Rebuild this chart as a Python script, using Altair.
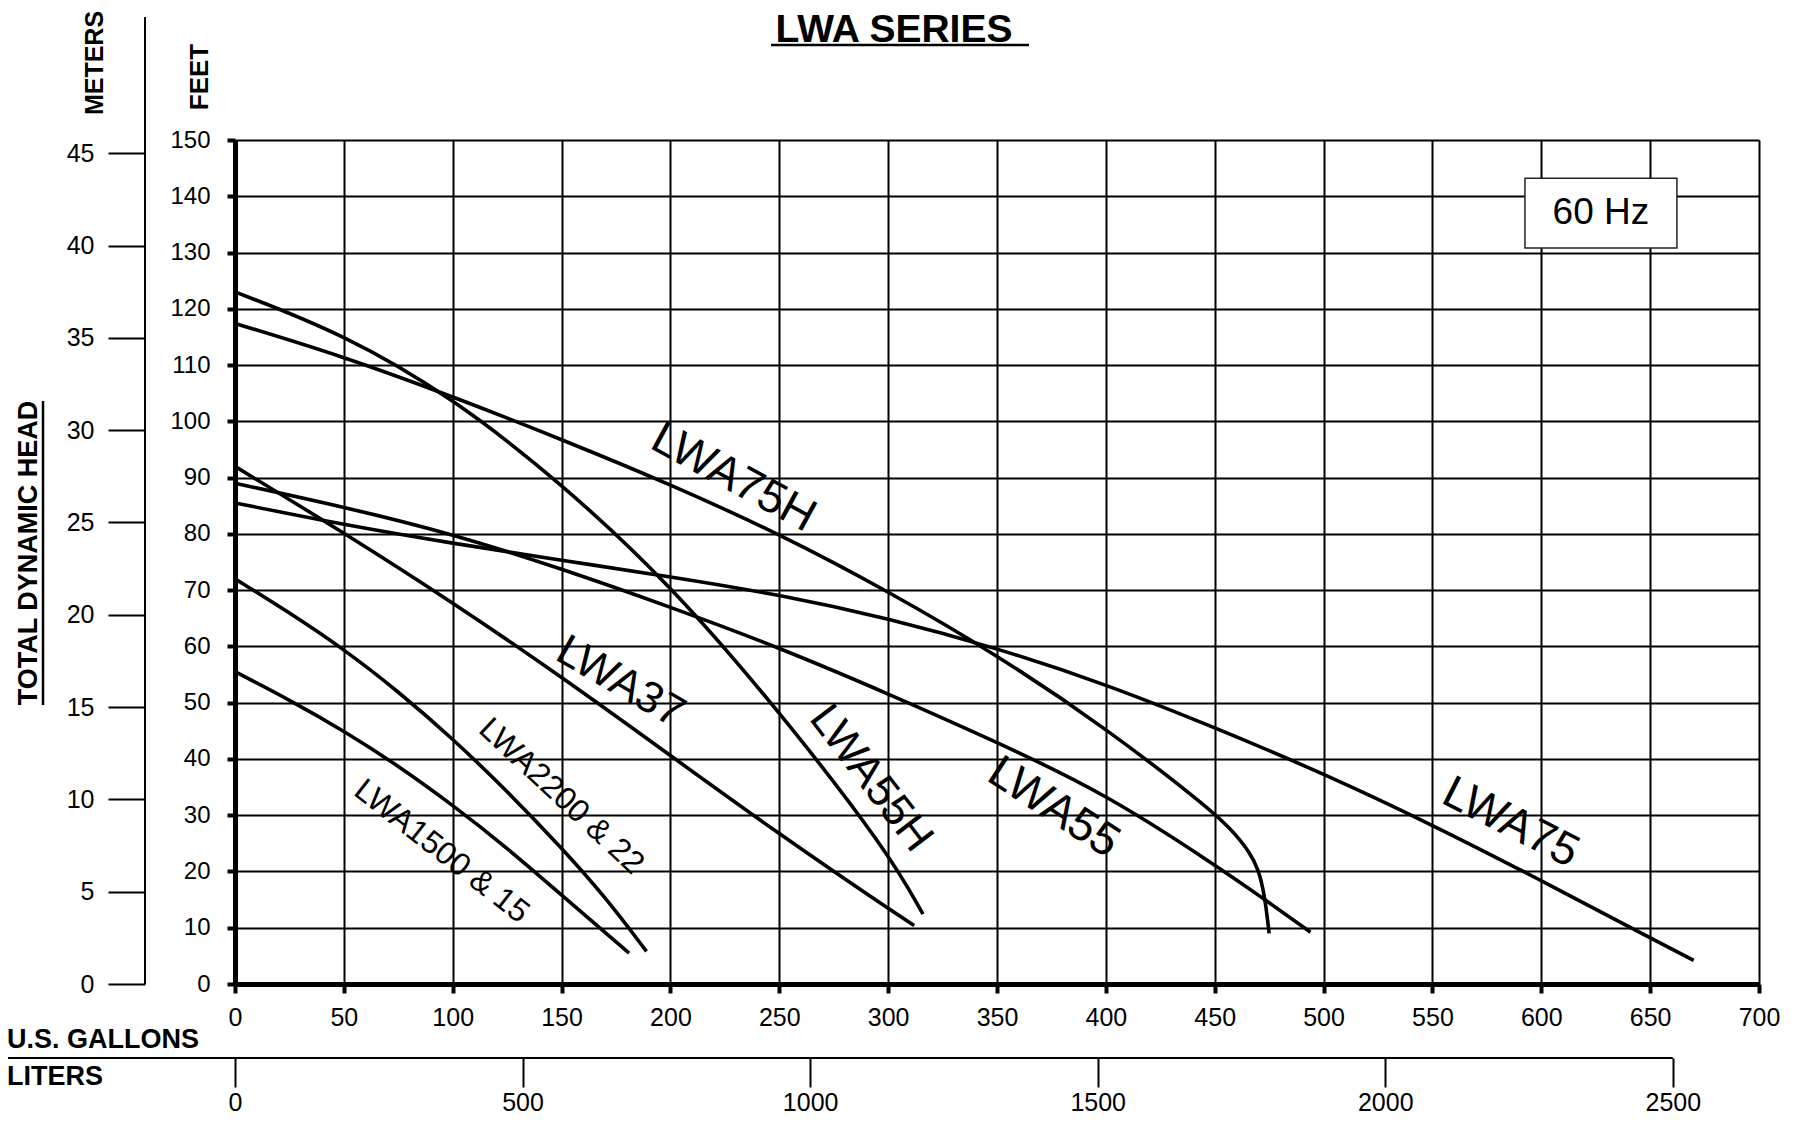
import altair as alt
import pandas as pd

# ---------------- data ----------------
gal_ticks = list(range(0, 701, 50))
feet_ticks = list(range(0, 151, 10))
meter_ticks = list(range(0, 46, 5))
liter_ticks = [0, 500, 1000, 1500, 2000, 2500]

lwa1500_gpm = [0, 25, 50, 75, 100, 125, 150, 181]
lwa1500_ft = [55.5, 50.5, 45.0, 38.8, 31.8, 24.2, 15.8, 5.5]

lwa2200_gpm = [0, 25, 50, 75, 100, 125, 150, 170, 189]
lwa2200_ft = [72.0, 66.0, 59.5, 52.0, 43.6, 34.3, 24.2, 15.5, 5.8]

lwa37_gpm = [0, 50, 100, 150, 200, 250, 300, 312]
lwa37_ft = [92.0, 80.2, 67.8, 54.6, 40.6, 26.6, 13.4, 10.4]

lwa55h_gpm = [0, 50, 100, 150, 200, 250, 300, 316]
lwa55h_ft = [123.0, 115.5, 104.2, 89.0, 71.0, 48.5, 23.5, 12.4]

lwa75h_gpm = [0, 50, 100, 150, 200, 250, 300, 350, 400, 450, 460, 466, 470, 473, 475]
lwa75h_ft = [117.4, 111.5, 104.4, 96.8, 88.8, 80.0, 69.8, 58.5, 45.5, 30.5, 26.4, 23.4, 20.5, 15.7, 9.0]

lwa55_gpm = [0, 50, 100, 150, 200, 250, 300, 350, 400, 450, 472, 494]
lwa55_ft = [89.0, 84.8, 80.0, 73.8, 67.0, 59.8, 51.6, 43.0, 33.8, 21.2, 15.3, 9.2]

lwa75_gpm = [0, 50, 100, 150, 200, 250, 300, 350, 400, 450, 500, 550, 600, 650, 670]
lwa75_ft = [85.5, 81.6, 78.3, 75.3, 72.4, 69.2, 65.0, 59.7, 53.3, 45.6, 37.4, 28.3, 18.4, 8.2, 4.2]

curve_names = ["LWA1500 & 15", "LWA2200 & 22", "LWA37", "LWA55H", "LWA75H", "LWA55", "LWA75"]
curve_gpm = [lwa1500_gpm, lwa2200_gpm, lwa37_gpm, lwa55h_gpm, lwa75h_gpm, lwa55_gpm, lwa75_gpm]
curve_ft = [lwa1500_ft, lwa2200_ft, lwa37_ft, lwa55h_ft, lwa75h_ft, lwa55_ft, lwa75_ft]

label_text = ["LWA75H", "LWA37", "LWA2200 & 22", "LWA1500 & 15", "LWA55H", "LWA55", "LWA75"]
label_gpm = [229, 177, 150, 95, 292, 376, 586]
label_ft = [90.0, 53.6, 33.4, 23.6, 36.5, 31.4, 28.7]
label_angle = [28.5, 30, 43, 38, 52.5, 33, 27]
label_size = [46, 44, 32, 32, 44, 46, 46]

hz_text = ["60 Hz"]
hz_box_gpm = [592.5, 662.3]
hz_box_ft = [130.8, 143.2]

GPM_MAX = 700
FT_MAX = 150
L_PER_GAL = 3.78541
M_PER_FT = 0.3048
LITERS_MAX = GPM_MAX * L_PER_GAL
METERS_MAX = FT_MAX * M_PER_FT

W, H = 1524, 844
SANS = "Liberation Sans, Arial, sans-serif"

rows = []
for name, xs, ys in zip(curve_names, curve_gpm, curve_ft):
    for i, (xv, yv) in enumerate(zip(xs, ys)):
        rows.append({"model": name, "gpm": xv, "ft": yv, "i": i})
curves_df = pd.DataFrame(rows)

labels_df = pd.DataFrame({"t": label_text, "gpm": label_gpm, "ft": label_ft,
                          "ang": label_angle, "sz": label_size})
box_df = pd.DataFrame({"g1": [hz_box_gpm[0]], "g2": [hz_box_gpm[1]],
                       "f1": [hz_box_ft[0]], "f2": [hz_box_ft[1]],
                       "t": hz_text,
                       "gc": [(hz_box_gpm[0] + hz_box_gpm[1]) / 2],
                       "fc": [(hz_box_ft[0] + hz_box_ft[1]) / 2]})

x_scale = alt.Scale(domain=[0, GPM_MAX], nice=False, zero=True)
y_scale = alt.Scale(domain=[0, FT_MAX], nice=False, zero=True)

x_axis = alt.Axis(values=gal_ticks, title=None, grid=True, gridColor="black", gridWidth=2,
                  gridOpacity=1, domainColor="black", domainWidth=5, tickColor="black",
                  tickSize=9, tickWidth=4, labelFont=SANS, labelFontSize=25, labelColor="black",
                  labelPadding=12, labelFlush=False, labelOverlap=False, format="d")
y_axis = alt.Axis(values=feet_ticks, title=None, grid=True, gridColor="black", gridWidth=2,
                  gridOpacity=1, domainColor="black", domainWidth=5, tickColor="black",
                  tickSize=8, tickWidth=4, labelFont=SANS, labelFontSize=24, labelColor="black",
                  labelPadding=17, labelFlush=False, labelOverlap=False, format="d")

lines = alt.Chart(curves_df).mark_line(interpolate="basis", color="black", strokeWidth=3.6).encode(
    x=alt.X("gpm:Q", scale=x_scale, axis=x_axis),
    y=alt.Y("ft:Q", scale=y_scale, axis=y_axis),
    detail="model:N",
    order="i:Q",
)

labels = alt.Chart(labels_df).mark_text(font=SANS, color="black",
                                         align="center", baseline="middle").encode(
    x=alt.X("gpm:Q", scale=x_scale, axis=x_axis),
    y=alt.Y("ft:Q", scale=y_scale, axis=y_axis),
    text="t:N",
    angle=alt.Angle("ang:Q", scale=None),
    size=alt.Size("sz:Q", scale=None),
)

box = alt.Chart(box_df).mark_rect(fill="white", stroke="#222", strokeWidth=1.5).encode(
    x=alt.X("g1:Q", scale=x_scale, axis=x_axis), x2="g2:Q",
    y=alt.Y("f1:Q", scale=y_scale, axis=y_axis), y2="f2:Q",
)
box_text = alt.Chart(box_df).mark_text(font=SANS, fontSize=37, color="black",
                                        align="center", baseline="middle").encode(
    x=alt.X("gc:Q", scale=x_scale, axis=x_axis),
    y=alt.Y("fc:Q", scale=y_scale, axis=y_axis),
    text="t:N",
)

primary = alt.layer(lines, labels, box, box_text)

# secondary axes: liters / meters
sec_df = pd.DataFrame({"liters": [0, LITERS_MAX], "meters": [0, METERS_MAX]})
l_scale = alt.Scale(domain=[0, LITERS_MAX], nice=False, zero=True)
m_scale = alt.Scale(domain=[0, METERS_MAX], nice=False, zero=True)

l_axis = alt.Axis(orient="bottom", offset=74, values=liter_ticks, title=None, grid=False,
                  domain=False, tickColor="black", tickSize=29, tickWidth=2,
                  labelFont=SANS, labelFontSize=25, labelColor="black", labelPadding=3,
                  labelFlush=False, labelOverlap=False, format="d")
m_axis = alt.Axis(orient="left", offset=90, values=meter_ticks, title=None, grid=False,
                  domain=False, tickColor="black", tickSize=37, tickWidth=2,
                  labelFont=SANS, labelFontSize=25, labelColor="black", labelPadding=14,
                  labelFlush=False, labelOverlap=False, format="d")

sec_pts = alt.Chart(sec_df).mark_point(opacity=0).encode(
    x=alt.X("liters:Q", scale=l_scale, axis=l_axis),
    y=alt.Y("meters:Q", scale=m_scale, axis=m_axis),
)
liters_rule = alt.Chart(pd.DataFrame({"liters": [liter_ticks[-1]]})).mark_rule(
    color="black", strokeWidth=2).encode(
    x=alt.X("liters:Q", scale=l_scale, axis=l_axis),
    x2=alt.value(-228),
    y=alt.value(H + 74),
)
secondary = alt.layer(sec_pts, liters_rule)

# decorations (titles, axis names)
meters_line = alt.Chart(pd.DataFrame({"a": [0]})).mark_rule(color="black", strokeWidth=2).encode(
    x=alt.value(-90), y=alt.value(-123), y2=alt.value(H)
)

def txt(s, x, y, size, weight="bold", angle=0, align="center", baseline="middle"):
    return alt.Chart(pd.DataFrame({"t": [s]})).mark_text(
        font=SANS, fontSize=size, fontWeight=weight, color="black",
        align=align, baseline=baseline, angle=angle
    ).encode(x=alt.value(x), y=alt.value(y), text="t:N")

title = txt("LWA SERIES", 659, -98, 39, baseline="alphabetic")
title_ul = alt.Chart(pd.DataFrame({"a": [0]})).mark_rule(color="black", strokeWidth=2.5).encode(
    x=alt.value(536), x2=alt.value(794), y=alt.value(-95))
meters_t = txt("METERS", -140, -77, 25, angle=270)
feet_t = txt("FEET", -35, -63, 26, angle=270)
tdh_t = txt("TOTAL DYNAMIC HEAD", -206, 413, 27, angle=270)
tdh_ul = alt.Chart(pd.DataFrame({"a": [0]})).mark_rule(color="black", strokeWidth=2.5).encode(
    x=alt.value(-192), y=alt.value(261), y2=alt.value(565))
gal_t = txt("U.S. GALLONS", -228, 900, 27, align="left")
lit_t = txt("LITERS", -228, 937, 27, align="left")

deco = alt.layer(meters_line, title, title_ul, meters_t, feet_t, tdh_t, tdh_ul, gal_t, lit_t)

chart = alt.layer(primary, secondary, deco).resolve_scale(
    x="independent", y="independent"
).properties(
    width=W, height=H,
    autosize=alt.AutoSizeParams(type="none"),
    padding={"left": 227, "top": 132, "right": 30, "bottom": 134},
).configure_view(
    stroke="black", strokeWidth=5
).configure(background="white")

chart.save("out.html", embed_options={"renderer": "svg", "actions": False})
